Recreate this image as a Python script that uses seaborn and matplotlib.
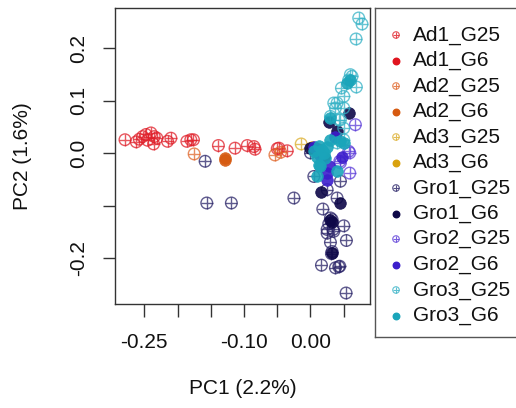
import matplotlib
matplotlib.use("Agg")
import matplotlib.pyplot as plt
import seaborn as sns
import pandas as pd
import numpy as np

sns.set_style("white")
plt.rcParams['font.family'] = ['Liberation Sans', 'DejaVu Sans']

groups = ["Ad1_G25", "Ad1_G6", "Ad2_G25", "Ad2_G6", "Ad3_G25", "Ad3_G6",
          "Gro1_G25", "Gro1_G6", "Gro2_G25", "Gro2_G6", "Gro3_G25", "Gro3_G6"]
colors = ["#e0202a", "#e0141e", "#e0662a", "#d65a10", "#dcae2c", "#d9a20e",
          "#2a2468", "#0e0848", "#5a3ad8", "#3c1ecc", "#35b2c6", "#1aa5ba"]
open_marker = [True, False, True, False, True, False,
               True, False, True, False, True, False]

ad1_g25_x = [-0.279, -0.2575, -0.2525, -0.2475, -0.240, -0.235, -0.231, -0.236, -0.215, -0.210,
             -0.186, -0.180, -0.176, -0.1385, -0.1135, -0.095, -0.085, -0.0835, -0.050, -0.0475,
             -0.035, -0.245, -0.262]
ad1_g25_y = [0.026, 0.027, 0.032, 0.036, 0.039, 0.032, 0.029, 0.018, 0.023, 0.029,
             0.023, 0.026, 0.026, 0.015, 0.010, 0.015, 0.013, 0.008, 0.009, 0.010,
             0.005, 0.025, 0.022]
ad1_g6_x = [0.012]
ad1_g6_y = [0.008]
ad2_g25_x = [-0.175, -0.0535, -0.045]
ad2_g25_y = [-0.001, -0.003, 0.002]
ad2_g6_x = [-0.1285, -0.1285]
ad2_g6_y = [-0.009, -0.013]
ad3_g25_x = [-0.014]
ad3_g25_y = [0.018]
ad3_g6_x = [0.002]
ad3_g6_y = [0.012]
gro1_g25_x = [-0.1585, -0.156, -0.119, -0.025, 0.0185, 0.040, 0.030, 0.0275, 0.025, 0.034,
              0.050, 0.030, 0.054, 0.0315, 0.0165, 0.0375, 0.044, 0.0535, 0.005, 0.025,
              0.045, 0.000, 0.0325, 0.025, 0.035, 0.0325, 0.0425]
gro1_g25_y = [-0.015, -0.0945, -0.0945, -0.085, -0.106, -0.085, -0.123, -0.134, -0.145, -0.145,
              -0.138, -0.1695, -0.166, -0.191, -0.213, -0.218, -0.215, -0.266, -0.044, -0.069,
              -0.053, 0.001, -0.126, -0.152, -0.1485, -0.187, -0.216]
gro1_g6_x = [0.0275, 0.0575, 0.040, 0.016, 0.044, 0.030, 0.0325, 0.010, 0.000, 0.020, 0.0325]
gro1_g6_y = [0.059, 0.077, 0.042, -0.074, -0.0945, -0.126, -0.190, 0.004, 0.010, -0.006, -0.130]
gro2_g25_x = [0.0675, 0.059, 0.059, 0.045, 0.0575, 0.044]
gro2_g25_y = [0.0547, 0.001, -0.0375, -0.018, 0.004, -0.015]
gro2_g6_x = [0.0375, 0.0275, 0.025, 0.0475, 0.015, 0.005, 0.0245]
gro2_g6_y = [0.032, -0.025, -0.050, -0.006, -0.0025, 0.013, -0.0375]
gro3_g25_x = [0.0725, 0.0775, 0.0685, 0.0625, 0.0575, 0.069, 0.0465, 0.050, 0.040, 0.0375,
              0.030, 0.045, 0.050, 0.050, 0.040, 0.060, 0.035, 0.050, 0.0425]
gro3_g25_y = [0.258, 0.2465, 0.218, 0.1467, 0.140, 0.1265, 0.1245, 0.1086, 0.096, 0.0865,
              0.0705, 0.064, 0.048, 0.026, 0.020, 0.150, 0.096, 0.0865, 0.064]
gro3_g6_x = [0.060, 0.055, 0.030, 0.0125, 0.020, 0.015, 0.010, 0.040, 0.050, 0.005,
             0.025, 0.030, 0.045, 0.010, 0.0175, 0.0225, 0.0125]
gro3_g6_y = [0.140, 0.134, 0.0675, 0.0133, 0.001, -0.0248, -0.044, -0.034, 0.020, 0.004,
             0.013, 0.026, 0.023, -0.006, 0.007, -0.009, -0.0215]

xs = [ad1_g25_x, ad1_g6_x, ad2_g25_x, ad2_g6_x, ad3_g25_x, ad3_g6_x,
      gro1_g25_x, gro1_g6_x, gro2_g25_x, gro2_g6_x, gro3_g25_x, gro3_g6_x]
ys = [ad1_g25_y, ad1_g6_y, ad2_g25_y, ad2_g6_y, ad3_g25_y, ad3_g6_y,
      gro1_g25_y, gro1_g6_y, gro2_g25_y, gro2_g6_y, gro3_g25_y, gro3_g6_y]

x_ticks = [-0.25, -0.20, -0.15, -0.10, -0.05, 0.00, 0.05]
x_ticklabels = ["-0.25", "", "", "-0.10", "", "0.00", ""]
y_ticks = [-0.2, -0.1, 0.0, 0.1, 0.2]
y_ticklabels = ["-0.2", "", "0.0", "0.1", "0.2"]

df = pd.concat([pd.DataFrame({"PC1": x, "PC2": y, "group": g})
                for g, x, y in zip(groups, xs, ys)], ignore_index=True)

W, H = 516, 408
fig = plt.figure(figsize=(W / 100, H / 100), dpi=100)
ax = fig.add_axes([115 / W, (H - 304) / H, (370 - 115) / W, (304 - 8) / H])

FS = 15
S = 70
for g, c, op in zip(groups, colors, open_marker):
    sub = df[df["group"] == g]
    if op:
        sns.scatterplot(data=sub, x="PC1", y="PC2", ax=ax, marker="o", s=S,
                        color=c, facecolor="none", edgecolor=c, linewidth=1.0,
                        alpha=0.75, legend=False, zorder=3)
        sns.scatterplot(data=sub, x="PC1", y="PC2", ax=ax, marker="+", s=S,
                        color=c, linewidth=1.0, alpha=0.75, legend=False, zorder=3)
    else:
        sns.scatterplot(data=sub, x="PC1", y="PC2", ax=ax, marker="o", s=S,
                        color=c, edgecolor=c, linewidth=0.5, alpha=0.9,
                        legend=False, zorder=3)

ax.set_xlim(-0.294, 0.0895)
ax.set_ylim(-0.287, 0.277)
ax.set_xticks(x_ticks)
ax.set_xticklabels(x_ticklabels)
ax.set_yticks(y_ticks)
ax.set_yticklabels(y_ticklabels, rotation=90, va="center")
for sp in ax.spines.values():
    sp.set_color("#333333")
    sp.set_linewidth(1.0)
ax.tick_params(axis="both", which="both", direction="out", length=9, width=1,
               color="#333333", labelsize=FS, labelcolor="#111111",
               bottom=True, left=True, top=False, right=False)
ax.tick_params(axis="x", pad=12)
ax.tick_params(axis="y", pad=10)
ax.set_xlabel("PC1 (2.2%)", fontsize=FS, color="#111111")
ax.set_ylabel("PC2 (1.6%)", fontsize=FS, color="#111111")
ax.xaxis.set_label_coords(0.5, -(388 - 304) / 296, transform=ax.transAxes)
ax.yaxis.set_label_coords(-(115 - 22) / 255, 0.5, transform=ax.transAxes)
ax.xaxis.label.set_va("center")
ax.yaxis.label.set_va("center")

# legend panel
lax = fig.add_axes([375 / W, (H - 337) / H, (W + 20 - 375) / W, (337 - 8) / H])
lax.set_xlim(375, W + 20)
lax.set_ylim(337, 8)
lax.set_xticks([])
lax.set_yticks([])
for sp in lax.spines.values():
    sp.set_color("#555555")
    sp.set_linewidth(1.0)
for i, (g, c, op) in enumerate(zip(groups, colors, open_marker)):
    yy = 35 + i * 25.5
    if op:
        lax.scatter([396], [yy], s=22, marker="o", facecolor="none", edgecolor=c,
                    linewidth=0.8, alpha=0.8)
        lax.scatter([396], [yy], s=22, marker="+", color=c, linewidth=0.8, alpha=0.8)
    else:
        lax.scatter([396], [yy], s=22, marker="o", color=c)
    lax.text(413, yy, g, fontsize=FS, va="center", ha="left", color="#111111")

fig.savefig("out.png", dpi=100)
